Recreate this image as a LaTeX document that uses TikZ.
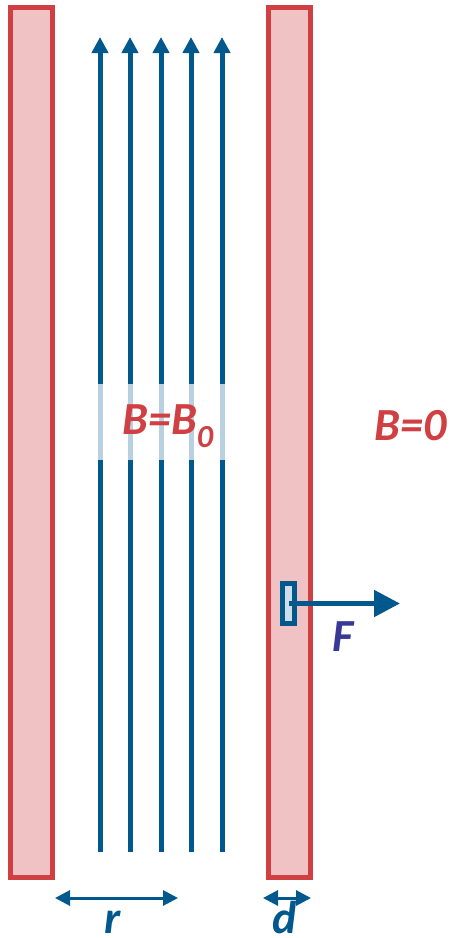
\documentclass[tikz,border=0pt]{standalone}
\usepackage{fontspec}
\setmainfont{Carlito}
\usepackage{tikz}
\usetikzlibrary{
    arrows.meta,
    positioning
}
\usepackage{xcolor}
\definecolor{wallred}{RGB}{208,64,66}
\definecolor{wallpink}{RGB}{240,194,196}
\definecolor{fieldblue}{RGB}{0,88,140}
\definecolor{paleblue}{RGB}{184,208,224}
\definecolor{probefill}{RGB}{205,222,234}
\definecolor{forceviolet}{RGB}{56,56,150}

\begin{document}
\begin{tikzpicture}[
        x=1pt, y=-1pt,
        >=Stealth,
        wall/.style={
            rectangle,
            draw=wallred,
            fill=wallpink,
            line width=5pt,
            inner sep=0pt,
            minimum width=42pt,
            minimum height=870pt
        },
        fieldline/.style={
            draw=fieldblue,
            line width=5pt,
            -{Triangle[length=16pt,width=16pt]}
        },
        probe/.style={
            rectangle,
            draw=fieldblue,
            fill=probefill,
            line width=5pt,
            inner sep=0pt,
            minimum width=12pt,
            minimum height=40pt
        },
        dimline/.style={
            draw=fieldblue,
            line width=3pt,
            {Triangle[length=15pt,width=15pt]}-{Triangle[length=15pt,width=15pt]}
        },
        label/.style={
            font=\fontsize{46}{46}\selectfont\bfseries\itshape
        }
    ]
        \useasboundingbox (0,0) rectangle (450,938);

        \node[wall] (leftwall) at (31.5,442.5) {};
        \node[wall] (rightwall) at (289.5,442.5) {};

        % field lines inside the cylinder
        \foreach \x [count=\i] in {100,130,161,191,222} {
            \coordinate (bot\i) at (\x,852);
            \coordinate (top\i) at (\x,37);
            \draw[fieldline] (bot\i) -- (top\i);
            \draw[paleblue, line width=5pt] (\x,384) -- (\x,460);
        }

        \node[label, text=wallred] (inside) at (168,426) {B=B\textsubscript{0}};
        \node[label, text=wallred] (outside) at (411,426) {B=0};

        % force on the wall
        \node[probe] (probe) at (288.5,603.5) {};
        \coordinate (ftip) at (400,603.5);
        \draw[fieldblue, line width=5pt, -{Triangle[length=26pt,width=26pt]}] (probe.center) -- (ftip);
        \node[label, text=forceviolet] (force) at (343,637) {F};

        % dimensions
        \coordinate (rleft) at (55,898);
        \coordinate (rright) at (178,898);
        \draw[dimline] (rleft) -- (rright);
        \node[label, text=fieldblue, anchor=base, inner sep=0pt] (rlabel) at (113,933) {r};

        \coordinate (dleft) at (263,898);
        \coordinate (dright) at (311,898);
        \draw[dimline] (dleft) -- (dright);
        \node[label, text=fieldblue, anchor=base, inner sep=0pt] (dlabel) at (285,933) {d};
    \end{tikzpicture}
\end{document}
